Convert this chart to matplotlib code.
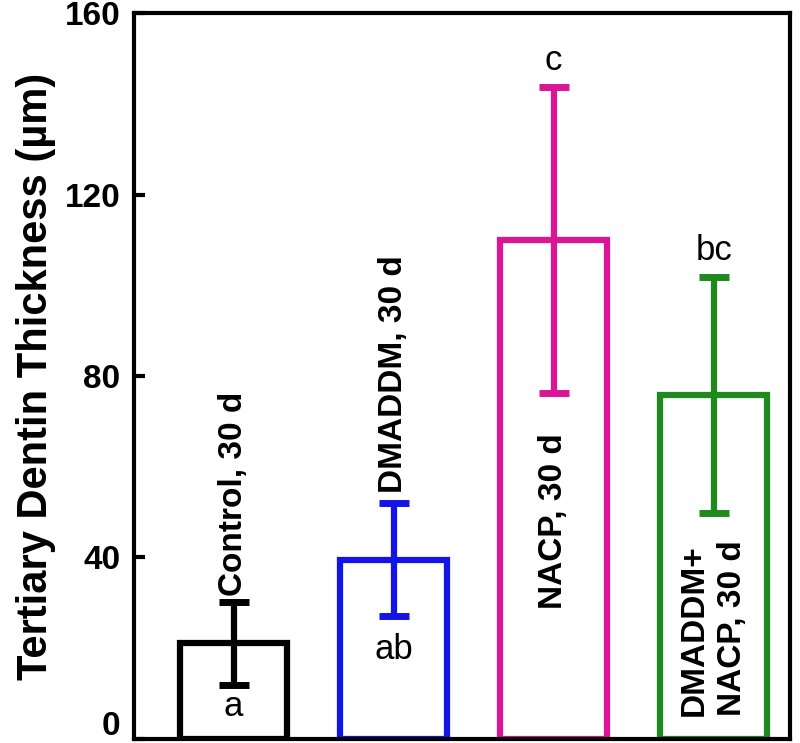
import numpy as np
import matplotlib.pyplot as plt
from matplotlib.transforms import ScaledTranslation

plt.rcParams['font.family'] = ['Liberation Sans', 'DejaVu Sans']

# datos
grupos = ["Control, 30 d", "DMADDM, 30 d", "NACP, 30 d", "DMADDM+\nNACP, 30 d"]
medias = [21, 39.5, 110, 75.8]
errores = [9.2, 12.5, 33.7, 26]
letras = ["a", "ab", "c", "bc"]
colores = ["#000000", "#1414e6", "#dc1496", "#1e8a1e"]

y_letras = [3.5, 16, 146, 104]

fig = plt.figure(figsize=(8, 7.43), dpi=100)
ax = fig.add_axes([0.168, 0.006, 0.82, 0.976])

x = np.arange(len(grupos))
for i in range(len(grupos)):
    ax.bar(x[i], medias[i], width=0.67, facecolor="none", edgecolor=colores[i],
           linewidth=4.5, zorder=2)
    ax.errorbar(x[i], medias[i], yerr=errores[i], color=colores[i], elinewidth=4.5,
                capsize=11, capthick=5, fmt="none", zorder=3)
    ax.text(x[i], y_letras[i], letras[i], ha="center", va="bottom", fontsize=25)

# etiquetas verticales de cada grupo
ax.text(x[0], medias[0] + errores[0] + 1.2, grupos[0], rotation=90, ha="center",
        va="bottom", fontsize=24, fontweight="bold")
ax.text(x[1], medias[1] + errores[1] + 2.2, grupos[1], rotation=90, ha="center",
        va="bottom", fontsize=24, fontweight="bold")
ax.text(x[2], 48, grupos[2], rotation=90, ha="center", va="center",
        fontsize=24, fontweight="bold")
ax.text(x[3], 5, grupos[3], rotation=90, ha="center", va="bottom",
        multialignment="left", fontsize=24, fontweight="bold", linespacing=1.3)

ax.set_xlim(-0.62, 3.48)
ax.set_ylim(0, 160)
ax.set_yticks([0, 40, 80, 120, 160])
ax.set_xticks([])
ax.tick_params(axis="y", direction="in", length=8, width=3, labelsize=24, pad=10)
for t in ax.get_yticklabels():
    t.set_fontweight("bold")
# el "0" un poco mas arriba para que no se corte
lab0 = ax.get_yticklabels()[0]
lab0.set_transform(lab0.get_transform() + ScaledTranslation(0, 11 / 72, fig.dpi_scale_trans))
for s in ax.spines.values():
    s.set_linewidth(3)

ax.set_ylabel("Tertiary Dentin Thickness (µm)", fontsize=30, fontweight="bold", labelpad=6)

plt.savefig("out.png", dpi=100)
